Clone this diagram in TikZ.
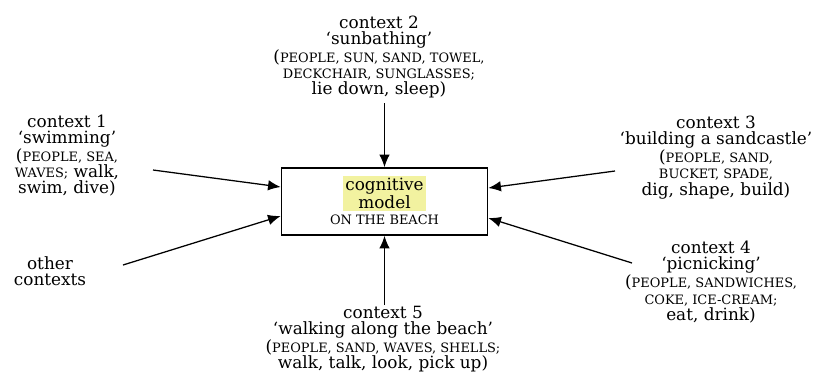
\documentclass[tikz,border=0pt]{standalone}
\usepackage{fontspec}
\setmainfont{DejaVu Serif}
\usepackage{tikz}
\usetikzlibrary{arrows.meta, positioning, calc}
\definecolor{hilite}{RGB}{242,242,160}
\newcommand{\objs}[1]{{\fontsize{9.2}{9.2}\selectfont #1}}

\tikzset{
    ctx/.style={align=center, inner sep=0pt, font=\fontsize{12}{11.5}\selectfont},
    arr/.style={line width=0.9pt, -{Latex[length=9pt,width=7.5pt]}}
}

\begin{document}
\begin{tikzpicture}[x=0.025cm, y=-0.025cm]
    \useasboundingbox (0,0) rectangle (824,378);

    % Central box
    \node[draw, line width=1.1pt, minimum width=5.15cm, minimum height=1.675cm] (box) at (384.5,201.5) {};
    \node[ctx, fill=hilite, inner sep=1.5pt] (cm) at (384.5,193.5) {cognitive\\model};
    \node[ctx] (otb) at (384.5,220) {\objs{ON THE BEACH}};

    % Contexts
    \node[ctx] (c1) at (67,155.5) {context 1\\`swimming'\\(\objs{PEOPLE, SEA,}\\\objs{WAVES;} walk,\\swim, dive)};
    \node[ctx] (c2) at (379,57) {context 2\\`sunbathing'\\(\objs{PEOPLE, SUN, SAND, TOWEL,}\\\objs{DECKCHAIR, SUNGLASSES;}\\lie down, sleep)};
    \node[ctx] (c3) at (716,157.5) {context 3\\`building a sandcastle'\\(\objs{PEOPLE, SAND,}\\\objs{BUCKET, SPADE,}\\dig, shape, build)};
    \node[ctx] (c4) at (711,282) {context 4\\`picnicking'\\(\objs{PEOPLE, SANDWICHES,}\\\objs{COKE, ICE-CREAM;}\\eat, drink)};
    \node[ctx] (c5) at (383,339) {context 5\\`walking along the beach'\\(\objs{PEOPLE, SAND, WAVES, SHELLS;}\\walk, talk, look, pick up)};
    \node[ctx] (oth) at (50,271.5) {other\\contexts};

    % Arrow starts
    \coordinate (s1) at (153,170);
    \coordinate (s2) at (384.5,103);
    \coordinate (s3) at (615,171);
    \coordinate (s4) at (632,263);
    \coordinate (s5) at (384.5,305);
    \coordinate (so) at (123,265);

    % Arrows
    \draw[arr] (s1) -- ($(box.west)+(0,-14.5)$);
    \draw[arr] (so) -- ($(box.west)+(0,14.5)$);
    \draw[arr] (s2) -- (box.north);
    \draw[arr] (s3) -- ($(box.east)+(0,-13.5)$);
    \draw[arr] (s4) -- ($(box.east)+(0,16.5)$);
    \draw[arr] (s5) -- (box.south);
\end{tikzpicture}
\end{document}
